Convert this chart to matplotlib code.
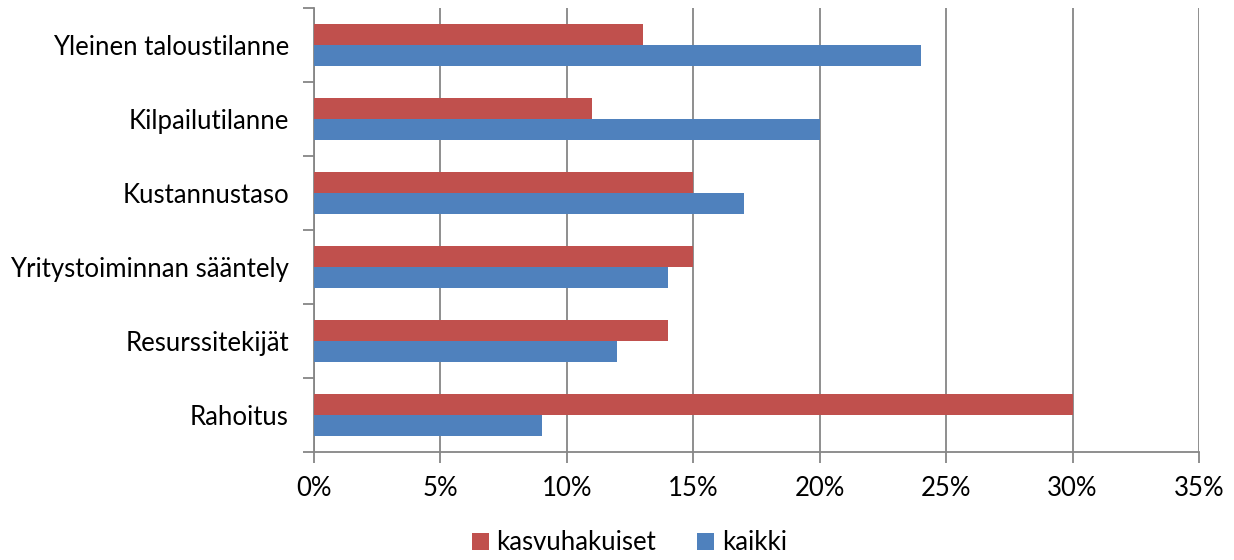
import numpy as np
import matplotlib.pyplot as plt
from matplotlib.ticker import MultipleLocator, FuncFormatter

categories = ['Yleinen taloustilanne', 'Kilpailutilanne', 'Kustannustaso',
              'Yritystoiminnan sääntely', 'Resurssitekijät', 'Rahoitus']
kasvuhakuiset = [13, 11, 15, 15, 14, 30]  # %
kaikki = [24, 20, 17, 14, 12, 9]  # %

plt.rcParams['font.family'] = ['Lato', 'DejaVu Sans']

red = '#C0504D'
blue = '#4F81BD'
gray = '#868686'

fig = plt.figure(figsize=(12.34, 5.6), dpi=100)
ax = fig.add_axes([314 / 1234, 1 - 452 / 560, (1199 - 314) / 1234, (452 - 8) / 560])

# first category at the top
y = np.arange(len(categories))[::-1]
h = 0.285
ax.barh(y + h / 2, kasvuhakuiset, height=h, color=red, label='kasvuhakuiset', zorder=3)
ax.barh(y - h / 2, kaikki, height=h, color=blue, label='kaikki', zorder=3)

ax.set_xlim(0, 35)
ax.set_ylim(-0.5, len(categories) - 0.5)
ax.xaxis.set_major_locator(MultipleLocator(5))
ax.xaxis.set_major_formatter(FuncFormatter(lambda v, p: f'{v:.0f}%'))
ax.grid(axis='x', color=gray, linewidth=1.3, zorder=0)

ax.set_yticks(y)
ax.set_yticklabels(categories)
ax.set_yticks(np.arange(-0.5, len(categories)), minor=True)
ax.tick_params(axis='y', which='major', length=0, pad=18, labelsize=18.5)
ax.tick_params(axis='y', which='minor', length=8, width=1.3, color=gray)
ax.tick_params(axis='x', length=8, width=1.3, color=gray, labelsize=18.5, pad=9)

for side in ['top', 'right']:
    ax.spines[side].set_visible(False)
for side in ['left', 'bottom']:
    ax.spines[side].set_color(gray)
    ax.spines[side].set_linewidth(1.3)

fig.legend(loc='center', bbox_to_anchor=(0.51, 1 - 543 / 560), ncol=2, frameon=False,
           fontsize=18.5, handlelength=0.65, handleheight=0.65, handletextpad=0.3,
           columnspacing=1.6)

plt.savefig('out.png', dpi=100)
